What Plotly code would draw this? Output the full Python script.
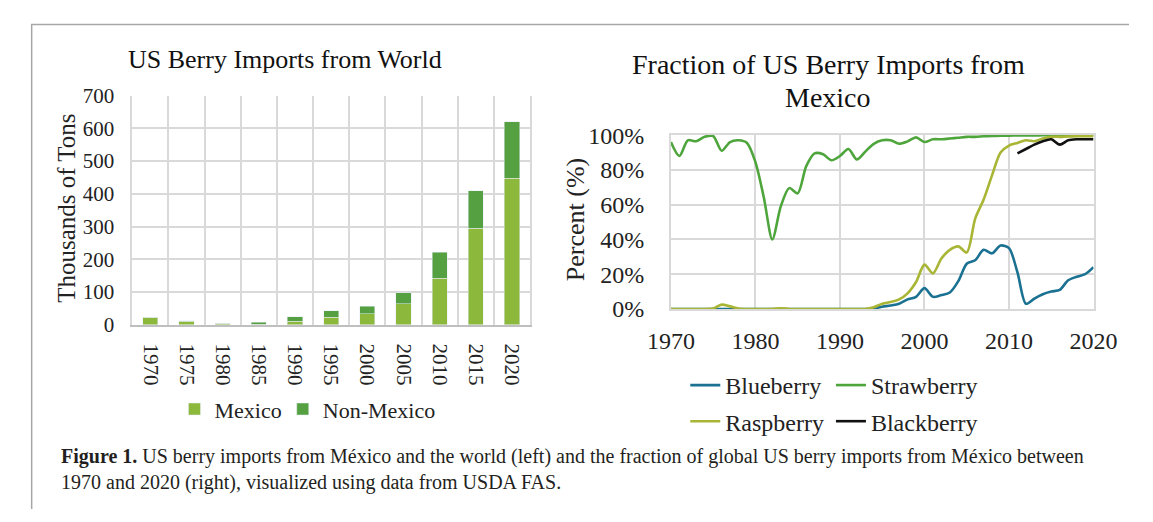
import plotly.graph_objects as go

W, H = 1153, 522

# ---------------- data ----------------
bar_years = [1970, 1975, 1980, 1985, 1990, 1995, 2000, 2005, 2010, 2015, 2020]
mexico = [22, 11, 4, 1, 10, 22, 34, 64, 142, 295, 447]
non_mexico = [1, 1, 1, 6, 14, 20, 22, 34, 79, 115, 174]

years = list(range(1970, 2021))
blueberry = [0] * 24 + [0.4, 1.3, 2, 3, 5.5, 7, 12, 7, 8, 9.5, 16, 26, 28, 34, 32, 36.5, 35,
                        21, 3, 6, 8.5, 10, 11, 16.5, 18.5, 20, 24]
strawberry = [96, 88, 97, 96.5, 99, 99.5, 91, 96, 97, 95.5, 84.5, 64, 40, 59, 69.5, 66.5, 82,
              89.5, 89, 85.5, 88, 92, 86, 90.5, 95, 97, 97, 95, 96.4, 98.7, 96, 97.6, 97.6,
              98, 98.5, 99, 99, 99.3, 99.5, 99.6, 99.7, 99.8, 99.8, 99.8, 99.9, 99.9, 99.9,
              99.9, 99.9, 99.9, 99.9]
raspberry = [0, 0, 0, 0, 0, 0.3, 2.5, 1.5, 0.3, 0, 0, 0, 0, 0.4, 0, 0, 0, 0, 0, 0, 0, 0, 0, 0,
             1, 3, 4, 5.5, 9, 15.5, 25.5, 20.5, 29, 34, 36, 32.5, 52, 63, 77, 90, 94, 95.5,
             97, 96.5, 98, 99, 99, 99.2, 99.3, 99.3, 99.3]
black_years = list(range(2011, 2021))
blackberry = [89.5, 92, 94.5, 96.4, 97.6, 94.5, 97, 97.6, 97.6, 97.6]

# ---------------- helpers ----------------
def px_x(p):
    return p / W

def px_y(p):
    return 1 - p / H

FONT = "Liberation Serif"
GRID = "#D9D9D9"
TXT = "#222222"

fig = go.Figure()

fig.add_trace(go.Bar(x=bar_years, y=mexico, name="Mexico", marker_color="#8CB83C",
                     xaxis="x", yaxis="y", legend="legend", showlegend=True))
fig.add_trace(go.Bar(x=bar_years, y=non_mexico, name="Non-Mexico", marker_color="#55A040",
                     xaxis="x", yaxis="y", legend="legend2", showlegend=True))

def pct(v):
    return [a / 100 for a in v]

lw = 2.6
line_series = [
    ("Blueberry", years, blueberry, "#1B7191", "legend3"),
    ("Strawberry", years, strawberry, "#4EA53C", "legend4"),
    ("Raspberry", years, raspberry, "#A9B534", "legend5"),
    ("Blackberry", black_years, blackberry, "#111111", "legend6"),
]
for name, xs, ys, col, lg in line_series:
    fig.add_trace(go.Scatter(x=xs, y=pct(ys), name=name, mode="lines", showlegend=True,
                             line=dict(color=col, width=lw, shape="spline", smoothing=0.8),
                             xaxis="x2", yaxis="y2", legend=lg))

def leg(x, y, size):
    return dict(orientation="h", x=px_x(x), y=px_y(y), xanchor="left", yanchor="middle",
                font=dict(size=size, family=FONT, color=TXT), bgcolor="rgba(0,0,0,0)")

fig.update_layout(
    width=W, height=H,
    margin=dict(l=0, r=0, t=0, b=0),
    paper_bgcolor="white", plot_bgcolor="white",
    showlegend=True,
    barmode="stack", bargap=0.58,
    font=dict(family=FONT, color=TXT),
    xaxis=dict(domain=[px_x(113), px_x(528)], range=[1967.5, 2022.5],
               tickmode="array", tickvals=bar_years, ticktext=[str(y) for y in bar_years],
               tickangle=90, showgrid=False, ticks="", ticklabelstandoff=13,
               tickfont=dict(size=21, family=FONT, color=TXT),
               minor=dict(tick0=1967.5, dtick=5, showgrid=True, gridcolor=GRID, gridwidth=1.5, ticks=""),
               showline=True, linecolor="#BFBFBF", linewidth=1.5, zeroline=False),
    yaxis=dict(domain=[px_y(328), px_y(87)], range=[0, 700], dtick=100,
               showgrid=True, gridcolor=GRID, gridwidth=1.5, zeroline=False,
               showline=True, mirror=True, linecolor=GRID, linewidth=1.5,
               ticks="", ticklabelstandoff=12,
               tickfont=dict(size=21, family=FONT, color=TXT)),
    xaxis2=dict(domain=[px_x(675), px_x(1116)], range=[1970, 2020], dtick=10, tick0=1970,
                anchor="y2", showgrid=True, gridcolor=GRID, gridwidth=1.5, zeroline=False,
                showline=True, mirror=True, linecolor=GRID, linewidth=1.5,
                ticks="", ticklabelstandoff=9,
                tickfont=dict(size=24, family=FONT, color=TXT)),
    yaxis2=dict(domain=[px_y(311.5), px_y(128.5)], range=[0, 1], dtick=0.2, tickformat=".0%",
                anchor="x2", showgrid=True, gridcolor=GRID, gridwidth=1.5, zeroline=False,
                showline=True, mirror=True, linecolor=GRID, linewidth=1.5,
                ticks="", ticklabelstandoff=20,
                tickfont=dict(size=24, family=FONT, color=TXT)),
    legend=leg(157, 417, 22),
    legend2=leg(270, 417, 22),
    legend3=leg(690, 392, 24),
    legend4=leg(842, 392, 24),
    legend5=leg(690, 430, 24),
    legend6=leg(842, 430, 24),
)

ann = [
    dict(text="US Berry Imports from World", x=px_x(272), y=px_y(49), size=26),
    dict(text="Fraction of US Berry Imports from", x=px_x(839), y=px_y(54), size=28),
    dict(text="Mexico", x=px_x(839), y=px_y(89), size=28),
]
for a in ann:
    fig.add_annotation(text=a["text"], x=a["x"], y=a["y"], xref="paper", yref="paper",
                       xanchor="center", yanchor="middle", showarrow=False,
                       font=dict(size=a["size"], family=FONT, color="#111111"))

fig.add_annotation(text="Thousands of Tons", x=px_x(45), y=px_y(206), xref="paper", yref="paper",
                   textangle=-90, showarrow=False, xanchor="center", yanchor="middle",
                   font=dict(size=25, family=FONT, color=TXT))
fig.add_annotation(text="Percent (%)", x=px_x(575), y=px_y(218), xref="paper", yref="paper",
                   textangle=-90, showarrow=False, xanchor="center", yanchor="middle",
                   font=dict(size=26, family=FONT, color=TXT))

fig.add_annotation(
    text="<b>Figure 1.</b> US berry imports from México and the world (left) and the fraction of global US berry imports from México between<br>1970 and 2020 (right), visualized using data from USDA FAS.",
    x=px_x(37), y=px_y(480), xref="paper", yref="paper", xanchor="left", yanchor="middle",
    align="left", showarrow=False, font=dict(size=20, family=FONT, color="#231F20"))

# frame border
fig.add_shape(type="path", xref="paper", yref="paper",
              path=f"M {px_x(8)},0 L {px_x(8)},{px_y(12)} L 1,{px_y(12)}",
              line=dict(color="#A6A6A6", width=1.5))

fig.write_html("out.html")
